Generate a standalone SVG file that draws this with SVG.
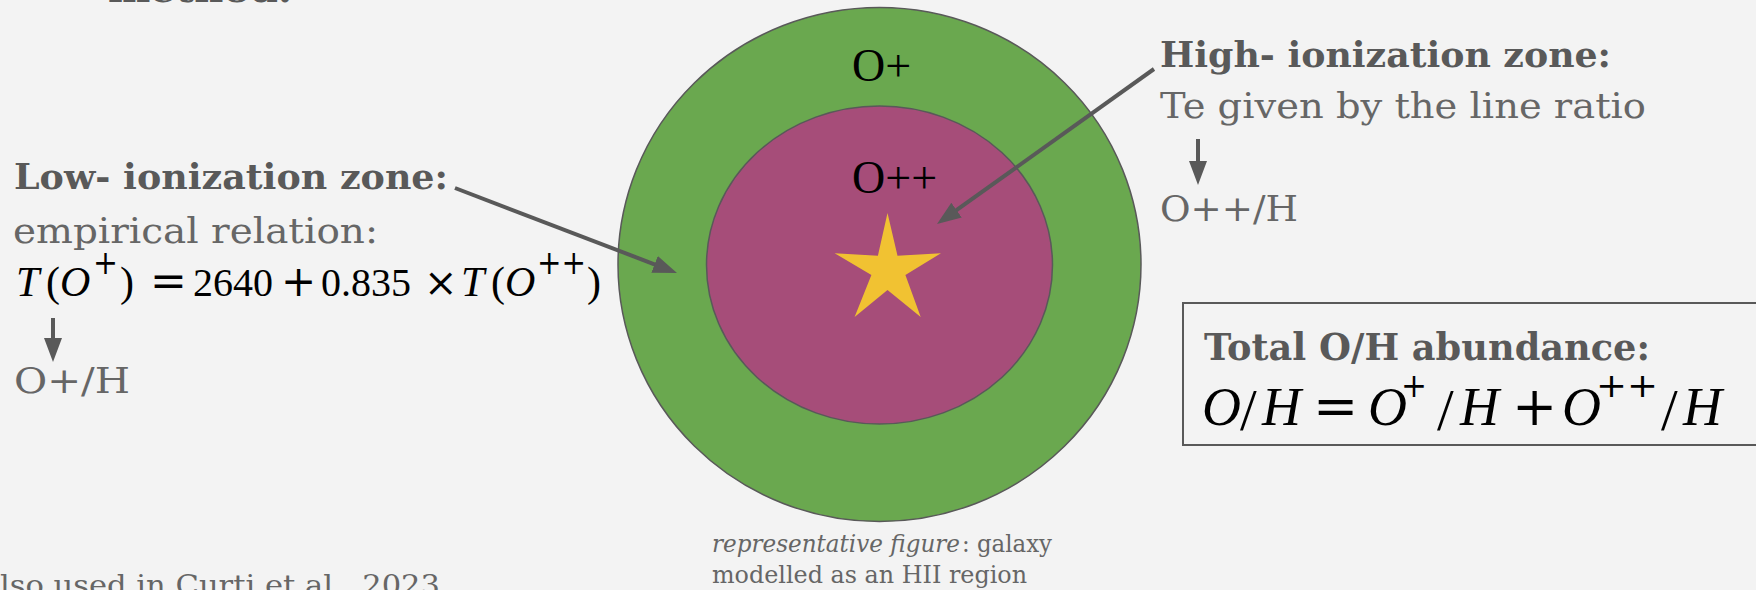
<svg xmlns="http://www.w3.org/2000/svg" width="1756" height="590" viewBox="0 0 1756 590">
<style>
.t{font-family:"DejaVu Serif","Liberation Serif",serif;fill:#666666}
.b{font-family:"DejaVu Serif","Liberation Serif",serif;font-weight:bold;fill:#595959}
.m{font-family:"Liberation Serif","Times New Roman",serif;fill:#000000}
.mi{font-family:"Liberation Serif","Times New Roman",serif;font-style:italic;fill:#000000}
.op{font-family:"DejaVu Serif",serif;fill:#000000}
.ion{font-family:"Liberation Serif","Times New Roman",serif;fill:#000000;font-size:46px}
.zone{stroke:#595959;stroke-width:1.5}
.conn{stroke:#595959;stroke-width:4;fill:none}
</style>
<defs>
<marker id="ah" markerUnits="userSpaceOnUse" markerWidth="26" markerHeight="20" refX="4" refY="9" orient="auto">
<path d="M0,0 L24,9 L0,18 z" fill="#595959"/>
</marker>
</defs>
<rect x="0" y="0" width="1756" height="590" fill="#f3f3f3"/>

<g id="top-fragment">
<text class="b" x="108" y="2" font-size="36" textLength="184" lengthAdjust="spacingAndGlyphs">method.</text>
</g>

<g id="galaxy">
<ellipse class="zone" cx="879.5" cy="264.5" rx="261.5" ry="257" fill="#6aa84f"/>
<ellipse class="zone" cx="879.5" cy="265" rx="173" ry="159" fill="#a64d79"/>
<polygon points="887.5,213 897.5,255.7 941,253.2 905.4,275 920.7,317 887.5,290 854.6,317 871.4,275 834.6,253.2 877.9,255.7" fill="#f1c232"/>
<text class="ion" x="852" y="81">O+</text>
<text class="ion" x="852" y="193">O++</text>
</g>

<g id="low-ionization">
<text class="b" x="14" y="189" font-size="36" textLength="434" lengthAdjust="spacingAndGlyphs">Low- ionization zone:</text>
<text class="t" x="13" y="243" font-size="36" textLength="365" lengthAdjust="spacingAndGlyphs">empirical relation:</text>
<g id="low-formula">
<text class="mi" x="16" y="296" font-size="42">T</text>
<text class="m" x="46" y="296" font-size="42">(</text>
<text class="mi" x="60" y="296" font-size="42">O</text>
<text class="op" x="93" y="274" font-size="34" textLength="25" lengthAdjust="spacingAndGlyphs">+</text>
<text class="m" x="120" y="296" font-size="42">)</text>
<text class="op" x="150" y="296" font-size="44">=</text>
<text class="m" x="193" y="296" font-size="40">2640</text>
<text class="op" x="281" y="296" font-size="42">+</text>
<text class="m" x="321" y="296" font-size="40">0.835</text>
<text class="op" x="424" y="296" font-size="40">×</text>
<text class="mi" x="461" y="296" font-size="42">T</text>
<text class="m" x="491" y="296" font-size="42">(</text>
<text class="mi" x="505" y="296" font-size="42">O</text>
<text class="op" x="537" y="274" font-size="34" textLength="49" lengthAdjust="spacingAndGlyphs">++</text>
<text class="m" x="587" y="296" font-size="42">)</text>
</g>
<text class="t" x="14" y="393" font-size="36" textLength="116" lengthAdjust="spacingAndGlyphs">O+/H</text>
</g>

<g id="high-ionization">
<text class="b" x="1160" y="67" font-size="36" textLength="451" lengthAdjust="spacingAndGlyphs">High- ionization zone:</text>
<text class="t" x="1160" y="118" font-size="36" textLength="486" lengthAdjust="spacingAndGlyphs">Te given by the line ratio</text>
<text class="t" x="1160" y="221" font-size="36" textLength="138" lengthAdjust="spacingAndGlyphs">O++/H</text>
</g>

<g id="total-box">
<rect x="1183" y="303" width="590" height="142" fill="none" stroke="#595959" stroke-width="2"/>
<text class="b" x="1204" y="360" font-size="38" textLength="446" lengthAdjust="spacingAndGlyphs">Total O/H abundance:</text>
<g id="total-formula">
<text class="mi" x="1202" y="425" font-size="54">O</text>
<text class="m" x="1240" y="430" font-size="60">/</text>
<text class="mi" x="1262" y="425" font-size="54">H</text>
<text class="op" x="1313" y="425" font-size="54">=</text>
<text class="mi" x="1368" y="425" font-size="54">O</text>
<text class="op" x="1401" y="397" font-size="34" textLength="26" lengthAdjust="spacingAndGlyphs">+</text>
<text class="m" x="1437" y="430" font-size="60">/</text>
<text class="mi" x="1460" y="425" font-size="54">H</text>
<text class="op" x="1512" y="425" font-size="54">+</text>
<text class="mi" x="1562" y="425" font-size="54">O</text>
<text class="op" x="1596" y="397" font-size="34" textLength="62" lengthAdjust="spacingAndGlyphs">++</text>
<text class="m" x="1661" y="430" font-size="60">/</text>
<text class="mi" x="1683" y="425" font-size="54">H</text>
</g>
</g>

<g id="caption">
<text class="t" x="712" y="552" font-size="24" font-style="italic" textLength="248" lengthAdjust="spacingAndGlyphs">representative figure</text>
<text class="t" x="962" y="552" font-size="24" textLength="90" lengthAdjust="spacingAndGlyphs">: galaxy</text>
<text class="t" x="712" y="583" font-size="24" textLength="315" lengthAdjust="spacingAndGlyphs">modelled as an HII region</text>
</g>

<g id="bottom-fragment">
<text class="t" x="0" y="595" font-size="28" textLength="440" lengthAdjust="spacingAndGlyphs">lso used in Curti et al., 2023</text>
</g>

<g id="connectors">
<line class="conn" x1="455" y1="188" x2="658.3" y2="265.8" marker-end="url(#ah)"/>
<line class="conn" x1="1154" y1="69" x2="953.3" y2="212.4" marker-end="url(#ah)"/>
<line class="conn" x1="53" y1="318" x2="53" y2="342" marker-end="url(#ah)"/>
<line class="conn" x1="1198" y1="139" x2="1198" y2="165" marker-end="url(#ah)"/>
</g>
</svg>
